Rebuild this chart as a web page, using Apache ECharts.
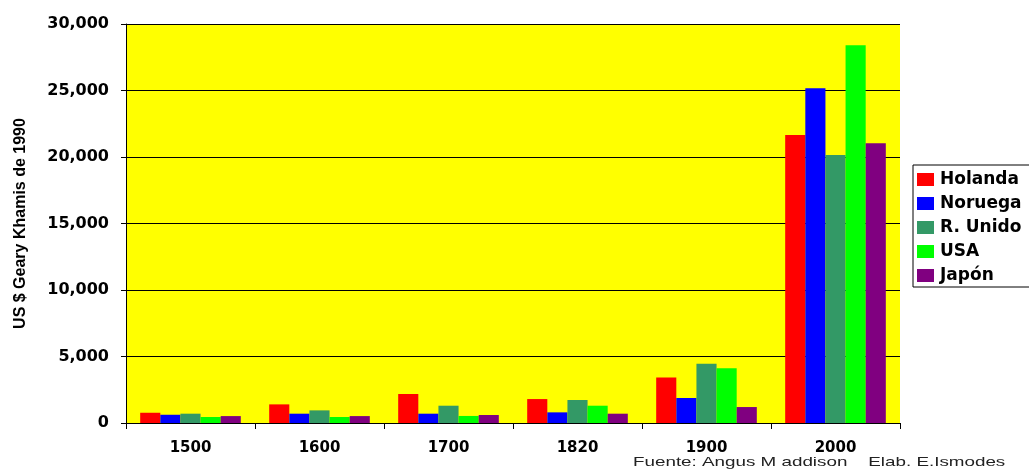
<!DOCTYPE html>
<html><head><meta charset="utf-8">
<script src="https://cdn.jsdelivr.net/npm/echarts@6/dist/echarts.min.js"></script>
<style>html,body{margin:0;padding:0;background:#fff}#c{width:1029px;height:470px}</style>
</head><body><div id="c"></div>
<script>
const categories = ['1500','1600','1700','1820','1900','2000'];
const holanda = [770, 1400, 2180, 1800, 3430, 21650];
const noruega = [620, 700, 700, 800, 1880, 25170];
const rUnido  = [700, 950, 1300, 1730, 4460, 20150];
const usa     = [450, 450, 530, 1300, 4110, 28400];
const japon   = [520, 520, 600, 700, 1200, 21030];
const seriesNames = ['Holanda','Noruega','R. Unido','USA','Japón'];
const seriesColors = ['#FF0000','#0000FF','#339966','#00FF00','#800080'];
const seriesData = [holanda, noruega, rUnido, usa, japon];
const yTicks = [0,5000,10000,15000,20000,25000,30000];

const chart = echarts.init(document.getElementById('c'));
const wide = '"DejaVu Sans", Verdana, sans-serif';
const arial = 'Arial, "Liberation Sans", sans-serif';
chart.setOption({
  animation: false,
  backgroundColor: '#ffffff',
  grid: {left: 126, right: 129, top: 24, bottom: 47, show: true, backgroundColor: '#FFFF00', borderWidth: 0},
  legend: {
    orient: 'vertical', left: 913, top: 165,
    data: seriesNames,
    itemWidth: 17, itemHeight: 13, itemGap: 7,
    icon: 'rect',
    borderColor: '#000', borderWidth: 1, padding: [6, 45, 3, 4],
    textStyle: {fontFamily: wide, fontWeight: 'bold', fontSize: 17, color: '#000', padding: [0,0,0,1]}
  },
  xAxis: {
    type: 'category', data: categories,
    axisLine: {lineStyle: {color: '#000', width: 1}},
    axisTick: {show: true, length: 6, lineStyle: {color: '#000'}},
    axisLabel: {fontFamily: wide, fontWeight: 'bold', fontSize: 15, color: '#000', margin: 18}
  },
  yAxis: {
    type: 'value', min: 0, max: 30000, interval: 5000,
    name: 'US $ Geary Khamis de 1990', nameLocation: 'middle', nameGap: 97, nameRotate: 90,
    nameTextStyle: {fontFamily: arial, fontWeight: 'bold', fontSize: 16, color: '#000'},
    axisLine: {show: true, lineStyle: {color: '#000', width: 1}},
    axisTick: {show: true, length: 5, lineStyle: {color: '#000'}},
    splitLine: {lineStyle: {color: '#000', width: 1}},
    axisLabel: {fontFamily: wide, fontWeight: 'bold', fontSize: 16, color: '#000', margin: 17,
      formatter: v => yTicks.includes(v) ? v.toLocaleString('en-US') : ''}
  },
  series: seriesNames.map((n, i) => ({
    name: n, type: 'bar', data: seriesData[i],
    barGap: '0%', barCategoryGap: '22%',
    itemStyle: {color: seriesColors[i]}
  })),
  graphic: [{
    type: 'text', x: 633, y: 456, scaleX: 1.447,
    style: {text: 'Fuente: Angus M addison    Elab. E.Ismodes', font: '13px ' + arial, fill: '#222'}
  }]
});
</script></body></html>
